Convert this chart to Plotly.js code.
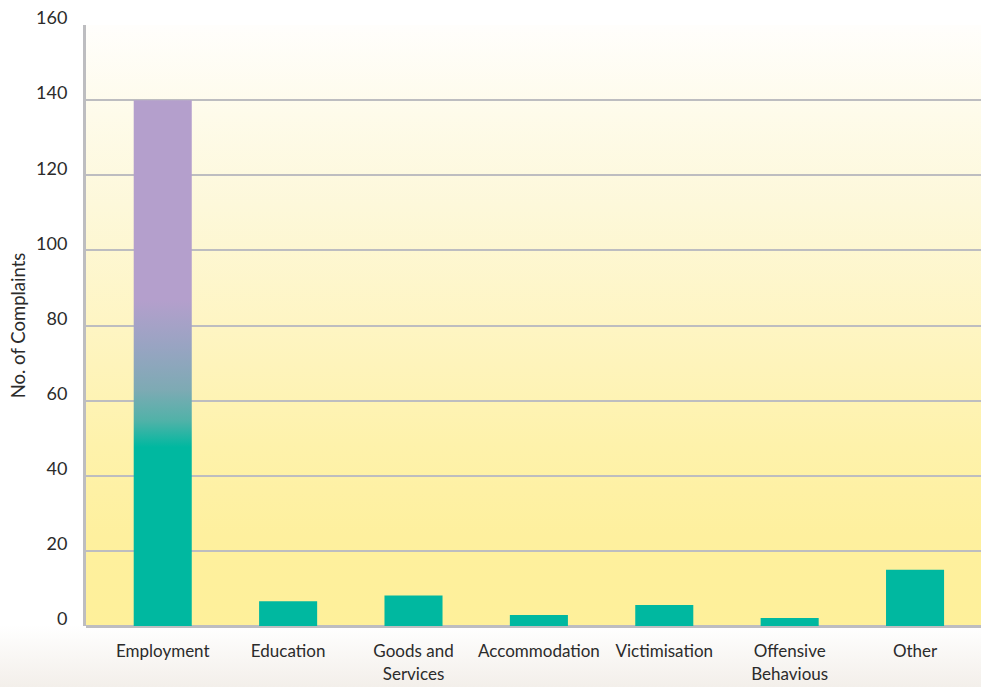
<!DOCTYPE html>
<html>
<head>
<meta charset="utf-8">
<script src="https://cdn.plot.ly/plotly-3.0.1.min.js"></script>
<style>
  html, body { margin: 0; padding: 0; }
  body { width: 981px; height: 687px; overflow: hidden;
         background: linear-gradient(to bottom, #ffffff 0%, #ffffff 91%, #f3efea 100%); }
  #chart { width: 981px; height: 687px; }
</style>
</head>
<body>
<div id="chart"></div>
<script>
// Data
const categories = ["Employment", "Education", "Goods and<br>Services", "Accommodation", "Victimisation", "Offensive<br>Behavious", "Other"];
const complaints = [140, 6.6, 8.1, 2.9, 5.6, 2.1, 15];
const yTickValues = [0, 20, 40, 60, 80, 100, 120, 140, 160];
const yTickLabels = ["0", "20", "40", "60", "80", "100", "120", "140", "160"];

const FONT = "Lato, 'Open Sans', 'DejaVu Sans', sans-serif";
const GRID = "#bdbdc0";

const data = [{
  type: "bar",
  x: categories,
  y: complaints,
  width: 0.463,
  marker: { color: "#00b8a0", line: { width: 0 } },
  hoverinfo: "skip"
}];

const layout = {
  width: 981,
  height: 687,
  margin: { l: 86, r: 0, t: 25, b: 61 },
  paper_bgcolor: "rgba(0,0,0,0)",
  plot_bgcolor: "#fef5c0",
  showlegend: false,
  font: { family: FONT, size: 17, color: "#2b2b2b" },
  xaxis: {
    type: "category",
    range: [-0.612, 6.526],
    showgrid: false,
    showline: false,
    ticks: "outside",
    ticklen: 10,
    tickcolor: "rgba(0,0,0,0)",
    tickfont: { family: FONT, size: 17, color: "#2b2b2b" },
    fixedrange: true
  },
  yaxis: {
    range: [0, 160],
    tickvals: yTickValues,
    ticktext: yTickLabels,
    showgrid: true,
    gridcolor: GRID,
    gridwidth: 2,
    zeroline: true,
    zerolinecolor: GRID,
    zerolinewidth: 3,
    showline: true,
    linecolor: GRID,
    linewidth: 3,
    ticks: "outside",
    ticklen: 12,
    tickcolor: "rgba(0,0,0,0)",
    ticklabelshift: -7,
    tickfont: { family: FONT, size: 18, color: "#2b2b2b" },
    title: { text: "No. of Complaints", font: { family: FONT, size: 18.5, color: "#2b2b2b" }, standoff: 6 },
    fixedrange: true
  }
};

Plotly.newPlot("chart", data, layout, { displayModeBar: false, staticPlot: true }).then(function (gd) {
  const NS = "http://www.w3.org/2000/svg";
  const svg = gd.querySelector("svg.main-svg");
  let defs = svg.querySelector("defs");
  if (!defs) { defs = document.createElementNS(NS, "defs"); svg.insertBefore(defs, svg.firstChild); }
  function makeGrad(id, stops) {
    const g = document.createElementNS(NS, "linearGradient");
    g.setAttribute("id", id);
    g.setAttribute("x1", "0"); g.setAttribute("y1", "0");
    g.setAttribute("x2", "0"); g.setAttribute("y2", "1");
    stops.forEach(function (s) {
      const st = document.createElementNS(NS, "stop");
      st.setAttribute("offset", s[0]);
      st.setAttribute("stop-color", s[1]);
      g.appendChild(st);
    });
    defs.appendChild(g);
  }
  makeGrad("bgGrad", [
    [0, "#fffefc"], [0.15, "#fefbea"], [0.3, "#fdf8da"],
    [0.5, "#fef5c3"], [0.7, "#fef2ab"], [0.85, "#fef09e"], [1, "#fef09a"]
  ]);
  makeGrad("barGrad", [
    [0, "#b49fcc"], [0.38, "#b49fcc"], [0.47, "#98a4c2"],
    [0.55, "#7eaab4"], [0.61, "#50b2a8"], [0.66, "#00b8a0"], [1, "#00b8a0"]
  ]);
  const bg = gd.querySelector(".bglayer .bg");
  if (bg) bg.style.fill = "url(#bgGrad)";
  const firstBar = gd.querySelector(".barlayer .point path");
  if (firstBar) firstBar.style.fill = "url(#barGrad)";
});
</script>
</body>
</html>
